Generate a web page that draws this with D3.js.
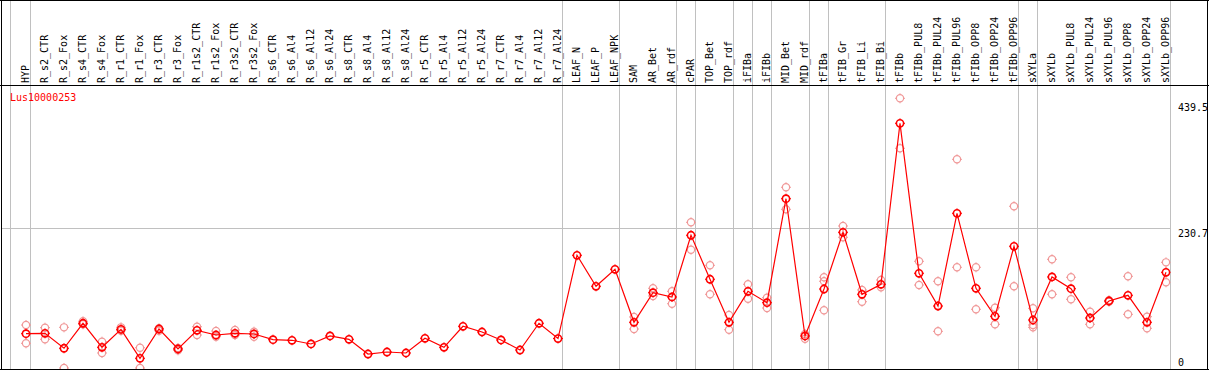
<!DOCTYPE html>
<html>
<head>
<meta charset="utf-8">
<script src="https://cdn.jsdelivr.net/npm/d3@7"></script>
<style>
  html, body { margin: 0; padding: 0; background: #fff; }
  svg { display: block; }
  text { font-family: "DejaVu Sans Mono", "Liberation Mono", monospace; font-size: 10px; }
</style>
</head>
<body>
<svg id="chart" width="1209" height="370"></svg>
<script>
const categories = [
  'HYP', 'R_s2_CTR', 'R_s2_Fox', 'R_s4_CTR', 'R_s4_Fox', 'R_r1_CTR', 'R_r1_Fox', 'R_r3_CTR', 'R_r3_Fox',
  'R_r1s2_CTR', 'R_r1s2_Fox', 'R_r3s2_CTR', 'R_r3s2_Fox', 'R_s6_CTR', 'R_s6_Al4', 'R_s6_Al12', 'R_s6_Al24',
  'R_s8_CTR', 'R_s8_Al4', 'R_s8_Al12', 'R_s8_Al24', 'R_r5_CTR', 'R_r5_Al4', 'R_r5_Al12', 'R_r5_Al24',
  'R_r7_CTR', 'R_r7_Al4', 'R_r7_Al12', 'R_r7_Al24', 'LEAF_N', 'LEAF_P', 'LEAF_NPK', 'SAM', 'AR_Bet', 'AR_rdf',
  'cPAR', 'TOP_Bet', 'TOP_rdf', 'iFIBa', 'iFIBb', 'MID_Bet', 'MID_rdf', 'tFIBa', 'tFIB_Gr', 'tFIB_Li', 'tFIB_Bi',
  'tFIBb', 'tFIBb_PUL8', 'tFIBb_PUL24', 'tFIBb_PUL96', 'tFIBb_OPP8', 'tFIBb_OPP24', 'tFIBb_OPP96',
  'sXYLa', 'sXYLb', 'sXYLb_PUL8', 'sXYLb_PUL24', 'sXYLb_PUL96', 'sXYLb_OPP8', 'sXYLb_OPP24', 'sXYLb_OPP96'
];

// mean expression per sample
const means = [
  56.7, 57.3, 32.6, 73.9, 34.2, 63.9, 16.0, 64.4, 31.4,
  62.3, 54.5, 57.3, 56.2, 46.8, 45.8, 39.7, 52.9,
  47.4, 23.1, 26.4, 24.8, 49.1, 34.2, 68.9, 59.5,
  46.3, 29.7, 73.9, 48.7, 186.2, 135.0, 163.1, 75.5, 124.4, 117.3,
  219.3, 146.6, 75.5, 126.7, 107.9, 279.7, 52.9, 130.5, 224.2, 121.8, 138.3,
  404.3, 156.5, 102.4, 255.6, 131.7, 85.4, 201.1,
  79.3, 150.4, 131.0, 82.6, 110.7, 120.1, 75.5, 158.1
];

// biological replicates (null = not shown)
const rep1 = [
  71.0, 66.6, 67.2, 77.2, 43.5, 67.2, 33.5, 65.6, 33.0,
  68.2, 61.1, 62.8, 60.0, null, null, null, null,
  null, null, null, null, null, null, null, null,
  null, null, null, null, null, null, null, 84.3, 131.7, 126.7,
  240.7, 169.7, 87.6, 138.3, 116.2, 298.6, 56.2, 149.9, 234.6, 128.9, 145.4,
  445.6, 176.3, 143.3, 344.8, 166.4, 99.6, 267.2,
  98.6, 179.6, 149.9, 93.0, 112.0, 151.5, 84.8, 174.6
];
const rep2 = [
  40.8, 47.4, 0, 72.2, 24.8, 61.6, 0, 61.6, 29.2,
  54.5, 51.7, 54.5, 51.7, null, null, null, null,
  null, null, null, null, null, null, null, null,
  null, null, null, null, null, null, null, 64.4, 119.0, 106.2,
  195.5, 121.8, 63.3, 114.5, 99.1, 262.2, 48.4, 143.3, 216.0, 109.5, 133.3,
  363.0, 137.1, 60.6, 166.4, 97.0, 72.2, 135.0,
  71.0, 121.8, 113.5, 72.2, 109.4, 88.7, 65.6, 141.6
];
const rep3 = [
  null, null, null, null, null, null, null, null, null,
  null, null, null, null, null, null, null, null,
  null, null, null, null, null, null, null, null,
  null, null, null, null, null, null, null, null, null, null,
  null, null, null, null, null, null, null, 95.3, null, null, null,
  null, null, null, null, null, null, null,
  67.2, null, null, null, null, null, null, null
];

// last sample of each tissue group (vertical separators)
const groupEnds = ['HYP', 'R_r7_Al24', 'LEAF_NPK', 'AR_rdf', 'cPAR', 'TOP_rdf', 'iFIBa', 'iFIBb',
  'MID_rdf', 'tFIBa', 'tFIB_Bi', 'tFIBb_OPP96', 'sXYLa', 'sXYLb_OPP96'];

const yTicks = [0, 230.7, 439.5];
const geneName = 'Lus10000253';

// layout
const W = 1209, H = 370;
const headerBottom = 85.5, plotBottom = 369.5, plotLeft = 1.5, plotRight = 1170.5, frameRight = 1207.5;

const svg = d3.select('#chart');

const x = d3.scalePoint().domain(categories).range([26, 1166]);
const y = d3.scaleLinear().domain([0, 439.5]).range([368, 102]);

// grid
const grid = svg.append('g');
grid.selectAll('line.v')
  .data(groupEnds)
  .enter().append('line')
  .attr('x1', d => Math.round(x(d) + 4) + 0.5)
  .attr('x2', d => Math.round(x(d) + 4) + 0.5)
  .attr('y1', 0).attr('y2', plotBottom)
  .attr('stroke', '#c0c0c0');
grid.append('line')
  .attr('x1', Math.round(x(categories[0]) - 16) + 0.5)
  .attr('x2', Math.round(x(categories[0]) - 16) + 0.5)
  .attr('y1', 0).attr('y2', plotBottom)
  .attr('stroke', '#c0c0c0');
grid.selectAll('line.h')
  .data(yTicks.filter(t => t > 0 && t < 439.5))
  .enter().append('line')
  .attr('x1', plotLeft).attr('x2', plotRight)
  .attr('y1', d => Math.round(y(d)) + 0.5)
  .attr('y2', d => Math.round(y(d)) + 0.5)
  .attr('stroke', '#c0c0c0');

// frame
const frame = svg.append('g').attr('stroke', '#000').attr('fill', 'none');
frame.append('line').attr('x1', 0).attr('x2', W).attr('y1', 0.5).attr('y2', 0.5);
frame.append('line').attr('x1', 0).attr('x2', W).attr('y1', headerBottom).attr('y2', headerBottom);
frame.append('line').attr('x1', 0).attr('x2', W).attr('y1', plotBottom).attr('y2', plotBottom);
frame.append('line').attr('x1', plotLeft).attr('x2', plotLeft).attr('y1', 0).attr('y2', plotBottom);
frame.append('line').attr('x1', frameRight).attr('x2', frameRight).attr('y1', 0).attr('y2', plotBottom);

// sample labels
svg.append('g').selectAll('text')
  .data(categories)
  .enter().append('text')
  .attr('transform', d => `translate(${Math.round(x(d)) + 2.6},83) rotate(-90)`)
  .attr('text-anchor', 'start')
  .attr('fill', '#000')
  .text(d => d);

// y labels
svg.append('g').selectAll('text')
  .data(yTicks)
  .enter().append('text')
  .attr('x', 1178)
  .attr('y', d => d === 0 ? 366 : y(d) + 9)
  .attr('fill', '#000')
  .text(d => d);

// gene name
svg.append('text')
  .attr('x', 10).attr('y', 101)
  .attr('fill', '#ff0000')
  .text(geneName);

svg.append('clipPath').attr('id', 'plotClip')
  .append('rect').attr('x', plotLeft).attr('y', headerBottom)
  .attr('width', plotRight - plotLeft).attr('height', plotBottom - headerBottom - 0.5);

const plot = svg.append('g').attr('clip-path', 'url(#plotClip)');

// marker: ring with small ticks at the four sides
function marker(g, color, sw) {
  g.append('circle').attr('r', 3.6).attr('fill', 'none').attr('stroke', color).attr('stroke-width', sw);
  g.append('path').attr('d', 'M0,-5V-3.6M0,3.6V5M-5,0H-3.6M3.6,0H5')
    .attr('stroke', color).attr('stroke-width', 1).attr('fill', 'none');
}

// replicates
const reps = [];
[rep1, rep2, rep3].forEach(arr => arr.forEach((v, i) => { if (v !== null) reps.push({ c: categories[i], v }); }));
plot.selectAll('g.rep')
  .data(reps)
  .enter().append('g')
  .attr('class', 'rep')
  .attr('transform', d => `translate(${x(d.c)},${y(d.v)})`)
  .each(function () { marker(d3.select(this), '#f09898', 1.2); });

// mean line
const line = d3.line().x((d, i) => x(categories[i])).y(d => y(d));
plot.append('path')
  .datum(means)
  .attr('d', line)
  .attr('fill', 'none')
  .attr('stroke', '#ff0000')
  .attr('stroke-width', 1.2);

plot.selectAll('g.mean')
  .data(means)
  .enter().append('g')
  .attr('class', 'mean')
  .attr('transform', (d, i) => `translate(${x(categories[i])},${y(d)})`)
  .each(function () { marker(d3.select(this), '#ff0000', 1.6); });
</script>
</body>
</html>
